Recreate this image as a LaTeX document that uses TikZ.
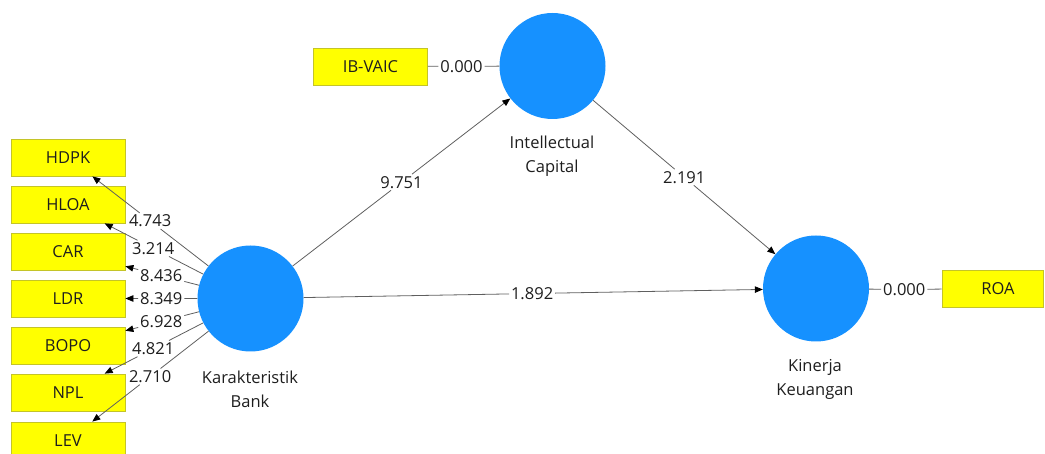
\documentclass[tikz,border=0pt]{standalone}
\usepackage{fontspec}
\setmainfont{Open Sans}
\usetikzlibrary{arrows.meta,calc}
\definecolor{lvblue}{RGB}{22,145,255}
\definecolor{indfill}{RGB}{255,255,0}
\definecolor{indline}{RGB}{196,196,40}
\definecolor{edgegray}{RGB}{95,95,95}
\definecolor{txt}{RGB}{30,30,30}
\begin{document}
\begin{tikzpicture}[x=1pt,y=-1pt,
  every node/.style={font=\fontsize{16.5}{24.5}\selectfont, text=txt},
  latent/.style={circle, fill=lvblue, minimum size=106pt, inner sep=0pt},
  indicator/.style={rectangle, fill=indfill, draw=indline, line width=0.8pt,
    minimum width=114pt, minimum height=37pt, inner sep=0pt},
  weight/.style={fill=white, inner sep=1.8pt},
  link/.style={draw=edgegray, line width=0.8pt},
  arrowlink/.style={link, -{Triangle[length=8pt,width=6.5pt,color=black]}},
  caption/.style={align=center}]
\useasboundingbox (0,0) rectangle (1045,454);

% latent variables
\node[latent] (kb) at (250.5,298.5) {};
\node[latent] (ic) at (552.5,66) {};
\node[latent] (kk) at (816,288.5) {};
\node[caption] (kbcap) at (250,389.5) {Karakteristik\\Bank};
\node[caption] (iccap) at (552,156) {Intellectual\\Capital};
\node[caption] (kkcap) at (815,379.5) {Kinerja\\Keuangan};

% indicators
\node[indicator] (vaic) at (370.5,66.5) {IB-VAIC};
\node[indicator, minimum width=101pt] (roa) at (992.5,288.5) {\hspace*{11pt}ROA};
\node[indicator] (hdpk) at (68,157.5) {HDPK};
\node[indicator] (hloa) at (68,204.5) {HLOA};
\node[indicator] (car)  at (68,251.5) {CAR};
\node[indicator] (ldr)  at (68,298.5) {LDR};
\node[indicator] (bopo) at (68,345.5) {BOPO};
\node[indicator] (npl)  at (68,392.5) {NPL};
\node[indicator] (lev)  at (68,440.5) {LEV};

% single-indicator links
\node[weight] (wvaic) at ($(vaic.center)!0.5!(ic.center)$) {0.000};
\draw[link] (vaic) -- (wvaic);
\draw[link] (wvaic) -- (ic);
\node[weight] (wroa) at ($(kk.center)!0.5!(roa.center)+(0,1)$) {0.000};
\draw[link] (kk) -- (wroa);
\draw[link] (wroa) -- (roa);

% outer model of Karakteristik Bank
\foreach \ind/\t/\v in {hdpk/0.55/4.743, hloa/0.533/3.214, car/0.489/8.436,
    ldr/0.489/8.349, bopo/0.489/6.928, npl/0.533/4.821, lev/0.55/2.710}{
  \node[weight] (w\ind) at ($(kb.center)!\t!(\ind.center)$) {\v};
  \draw[link] (kb) -- (w\ind);
  \draw[arrowlink] (w\ind) -- (\ind);
}

% inner model
\node[weight] (wkbic) at ($(kb.center)!0.5!(ic.center)$) {9.751};
\draw[link] (kb) -- (wkbic);
\draw[arrowlink] (wkbic) -- (ic);
\node[weight] (wickk) at ($(ic.center)!0.5!(kk.center)$) {2.191};
\draw[link] (ic) -- (wickk);
\draw[arrowlink] (wickk) -- (kk);
\node[weight] (wkbkk) at ($(kb.center)!0.498!(kk.center)$) {1.892};
\draw[link] (kb) -- (wkbkk);
\draw[arrowlink] (wkbkk) -- (kk);
\end{tikzpicture}
\end{document}
